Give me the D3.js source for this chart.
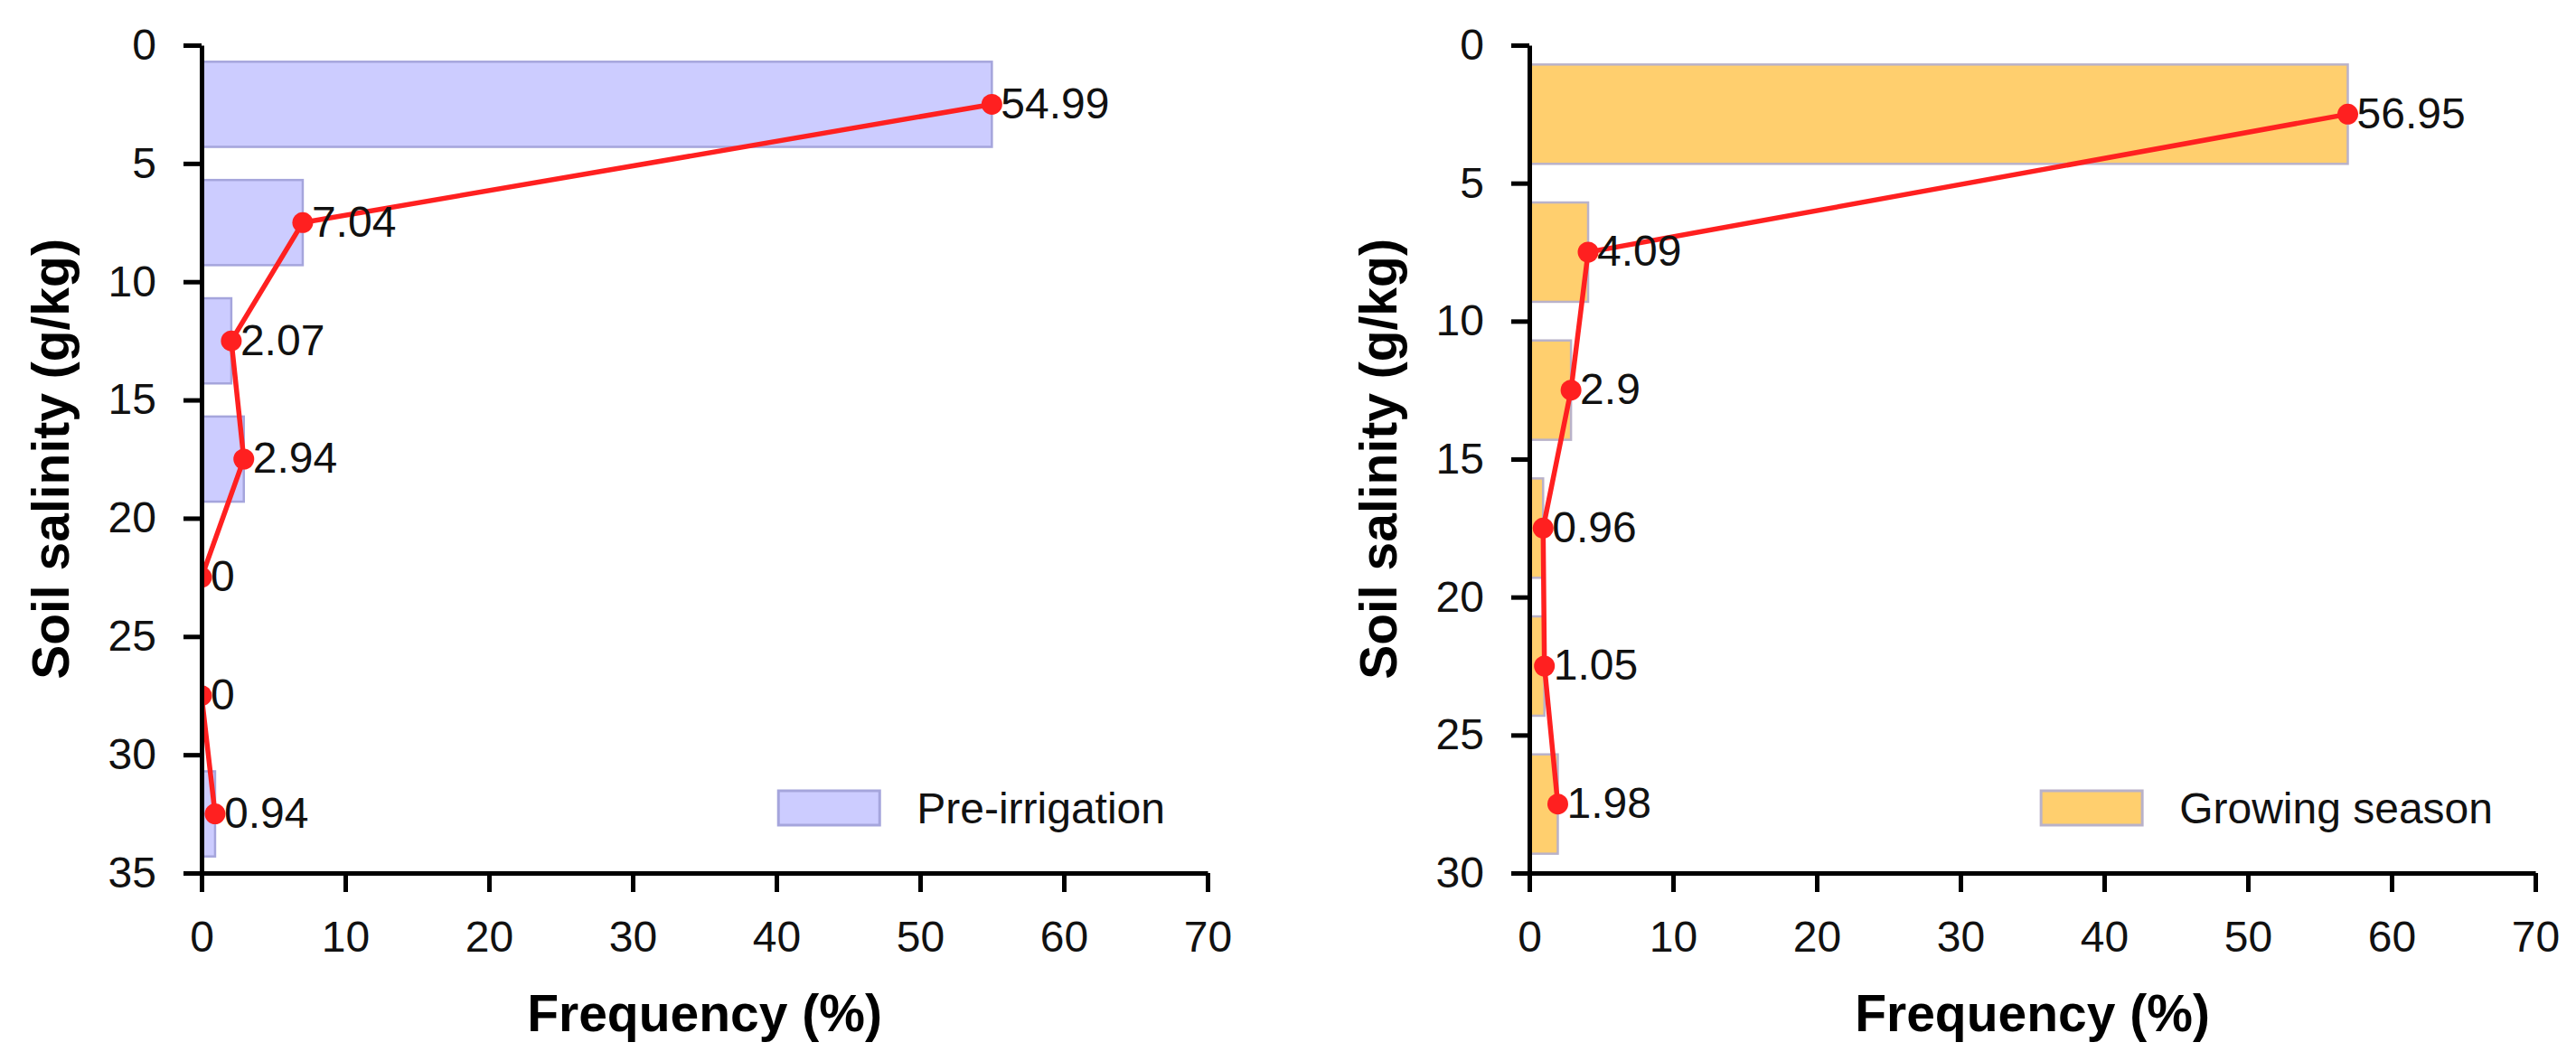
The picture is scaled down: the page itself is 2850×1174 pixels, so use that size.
<!DOCTYPE html>
<html>
<head>
<meta charset="utf-8">
<script src="https://cdn.jsdelivr.net/npm/d3@7"></script>
<style>
  html, body { margin: 0; padding: 0; background: #fff; }
  svg { display: block; font-family: "Liberation Sans", Arial, sans-serif; }
</style>
</head>
<body>
<div id="chart"></div>
<script>
// salinity classes (bin midpoints, g/kg) and frequencies (%)
const preMid = [2.5, 7.5, 12.5, 17.5, 22.5, 27.5, 32.5];
const preFreq = [54.99, 7.04, 2.07, 2.94, 0, 0, 0.94];
const growMid = [2.5, 7.5, 12.5, 17.5, 22.5, 27.5];
const growFreq = [56.95, 4.09, 2.9, 0.96, 1.05, 1.98];

const xTicks = [0, 10, 20, 30, 40, 50, 60, 70];
const preYTicks = [0, 5, 10, 15, 20, 25, 30, 35];
const growYTicks = [0, 5, 10, 15, 20, 25, 30];

const W = 2850, H = 1174;
const svg = d3.select("#chart").append("svg")
  .attr("width", W).attr("height", H);

function drawPanel(opt) {
  const top = 50, bottom = 966;
  const x = d3.scaleLinear().domain([0, 70]).range([opt.left, opt.left + 1113]);
  const y = d3.scaleLinear().domain([0, opt.yMax]).range([top, bottom]);
  const bin = 5;
  const data = opt.mid.map((m, i) => ({ mid: m, val: opt.freq[i] }));

  const g = svg.append("g");
  const clipId = "clip-" + opt.id;
  g.append("clipPath").attr("id", clipId)
    .append("rect")
    .attr("x", x(0)).attr("y", top - 20)
    .attr("width", x(70) - x(0) + 20).attr("height", bottom - top + 20);

  // bars
  g.selectAll(".bar").data(data).enter().append("rect")
    .attr("class", "bar")
    .attr("x", x(0))
    .attr("y", d => y(d.mid - bin * 0.36))
    .attr("width", d => x(d.val) - x(0))
    .attr("height", d => y(d.mid + bin * 0.36) - y(d.mid - bin * 0.36))
    .attr("fill", opt.fill)
    .attr("stroke", opt.stroke)
    .attr("stroke-width", 2.5);

  // frequency line + markers
  const line = d3.line().x(d => x(d.val)).y(d => y(d.mid));
  const lg = g.append("g").attr("clip-path", `url(#${clipId})`);
  lg.append("path").datum(data)
    .attr("d", line)
    .attr("fill", "none")
    .attr("stroke", "#ff2020")
    .attr("stroke-width", 5.5);
  lg.selectAll("circle").data(data).enter().append("circle")
    .attr("cx", d => x(d.val)).attr("cy", d => y(d.mid))
    .attr("r", 11.5).attr("fill", "#ff2020");

  // value labels
  g.selectAll(".lbl").data(data).enter().append("text")
    .attr("x", d => x(d.val) + 10)
    .attr("y", d => y(d.mid))
    .attr("dy", "0.32em")
    .attr("font-size", 48)
    .attr("fill", "#111")
    .text(d => String(d.val));

  // axes
  const yAxis = d3.axisLeft(y).tickValues(opt.yTicks).tickSize(20).tickSizeOuter(0).tickPadding(30);
  const xAxis = d3.axisBottom(x).tickValues(xTicks).tickSize(21).tickSizeOuter(0).tickPadding(32);

  const ya = g.append("g").attr("transform", `translate(${x(0)},0)`).call(yAxis);
  const xa = g.append("g").attr("transform", `translate(0,${bottom})`).call(xAxis);
  [ya, xa].forEach(a => {
    a.select(".domain").attr("stroke", "#000").attr("stroke-width", 5);
    a.selectAll(".tick line").attr("stroke", "#000").attr("stroke-width", 5);
    a.selectAll(".tick text").attr("font-size", 48).attr("fill", "#111")
      .attr("font-family", "'Liberation Sans', Arial, sans-serif");
  });

  // axis titles
  g.append("text")
    .attr("x", (x(0) + x(70)) / 2).attr("y", 1141)
    .attr("text-anchor", "middle")
    .attr("font-size", 57).attr("font-weight", "bold")
    .text("Frequency (%)");
  g.append("text")
    .attr("transform", `translate(${x(0) - 167},${(top + bottom) / 2}) rotate(-90)`)
    .attr("text-anchor", "middle")
    .attr("dy", "0.35em")
    .attr("font-size", 57).attr("font-weight", "bold")
    .text("Soil salinity (g/kg)");

  // legend (right aligned)
  const lt = g.append("text")
    .attr("x", x(70) - 47).attr("y", 894)
    .attr("dy", "0.35em")
    .attr("text-anchor", "end")
    .attr("font-size", 48).attr("fill", "#111")
    .text(opt.name);
  const tw = lt.node().getComputedTextLength();
  g.append("rect")
    .attr("x", x(70) - 47 - tw - 41 - 112).attr("y", 875)
    .attr("width", 112).attr("height", 38)
    .attr("fill", opt.fill)
    .attr("stroke", opt.stroke)
    .attr("stroke-width", 3);
}

drawPanel({ id: "pre", left: 223, yMax: 35, yTicks: preYTicks, mid: preMid, freq: preFreq,
  fill: "#ccccff", stroke: "#a5a5dc", name: "Pre-irrigation" });
drawPanel({ id: "grow", left: 1692, yMax: 30, yTicks: growYTicks, mid: growMid, freq: growFreq,
  fill: "#ffcf6e", stroke: "#b9b2c9", name: "Growing season" });
</script>
</body>
</html>
